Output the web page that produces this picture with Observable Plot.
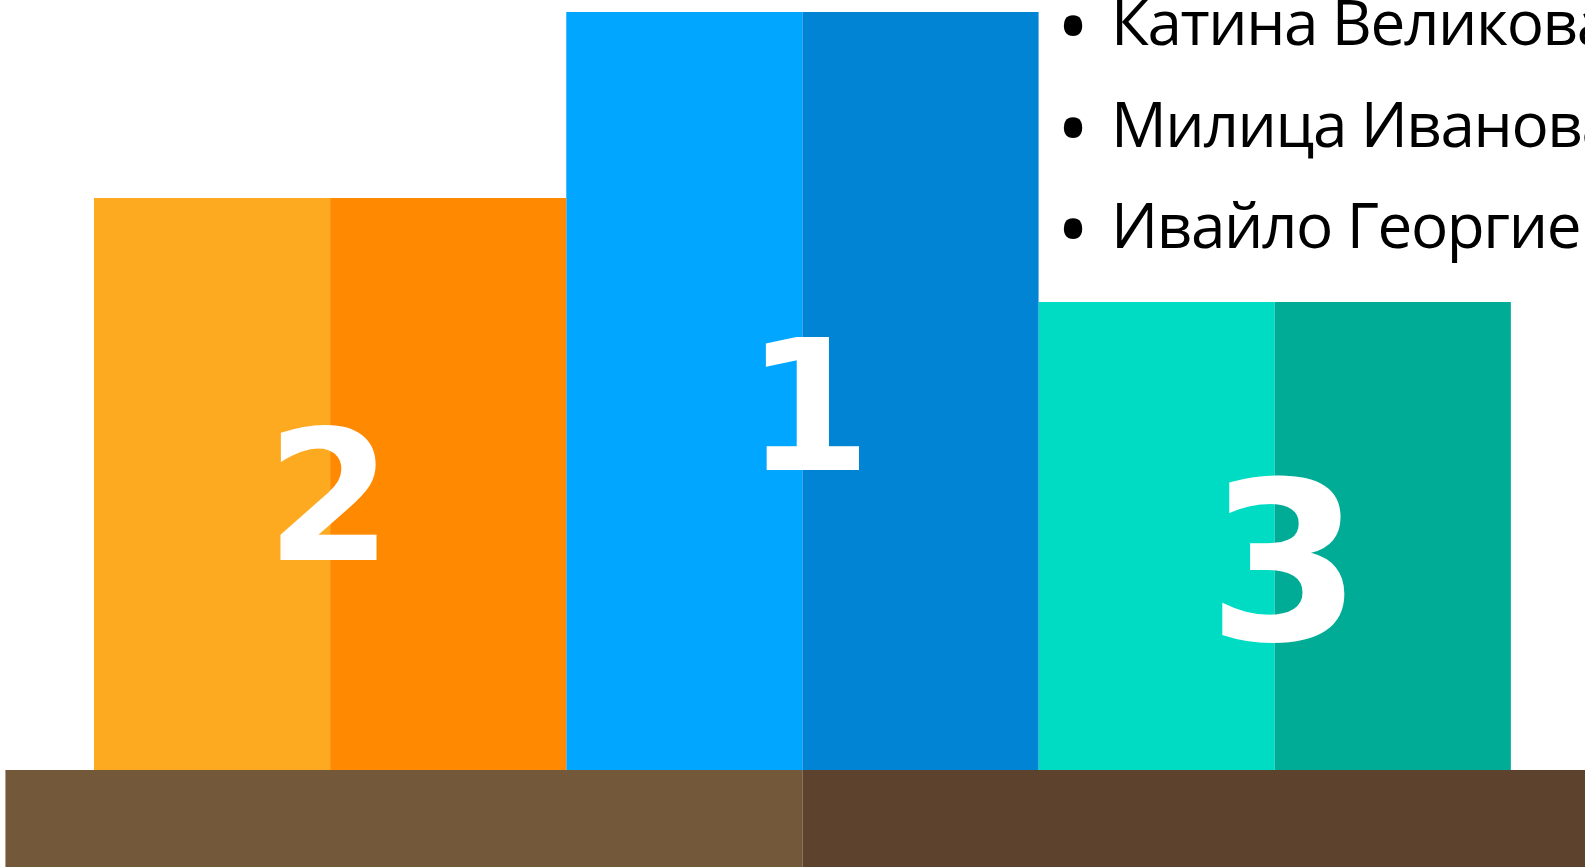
<!DOCTYPE html>
<html>
<head>
<meta charset="utf-8">
<script src="https://cdn.jsdelivr.net/npm/d3@7"></script>
<script src="https://cdn.jsdelivr.net/npm/@observablehq/plot@0.6"></script>
<style>
  html, body { margin: 0; padding: 0; background: #fff; overflow: hidden; }
  #chart svg { display: block; }
</style>
</head>
<body>
<div id="chart"></div>
<script>
// ---- data ----
const places = ["2", "1", "3"];            // podium places, left to right
const slots = [0, 1, 2];                    // slot order on the podium
const heights = [572, 758, 468];            // podium height above ground
const lightColors = ["#FEAA20", "#00A6FF", "#00DCC3"];
const darkColors = ["#FF8900", "#0084D3", "#00AC95"];
const groundColors = ["#735839", "#5D422E"];
const groundDepth = 97;
const names = ["Катина Великова", "Милица Иванова", "Ивайло Георгиев"];

const data = places.map((p, i) => ({
  place: p, slot: slots[i], h: heights[i], light: lightColors[i], dark: darkColors[i]
}));
const ground = [{from: 1 - 1.6875, mid: 1, to: 1 + 1.6875}];

const W = 1585, H = 867;
const plot = Plot.plot({
  width: W, height: H,
  margin: 0,
  x: {type: "linear", domain: [-0.699, 2.657], axis: null},
  y: {domain: [-groundDepth, 770], axis: null},
  color: {type: "identity"},
  marks: [
    Plot.rect(data, {x1: d => d.slot - 0.5, x2: "slot", y1: 0, y2: "h", fill: "light"}),
    Plot.rect(data, {x1: "slot", x2: d => d.slot + 0.5, y1: 0, y2: "h", fill: "dark"}),
    Plot.rect(ground, {x1: "from", x2: "mid", y1: -groundDepth, y2: 0, fill: () => groundColors[0]}),
    Plot.rect(ground, {x1: "mid", x2: "to", y1: -groundDepth, y2: 0, fill: () => groundColors[1]}),
    Plot.text(data, {
      x: d => d.slot + (d.place === "1" ? 0.012 : d.place === "3" ? 0.02 : -0.003),
      y: d => d.place === "3" ? d.h * 0.452 - 10 : d.h * 0.484 - 8,
      text: "place",
      fill: "white", fontFamily: "DejaVu Sans", fontWeight: "bold",
      fontSize: d => d.place === "3" ? 222 : 181
    })
  ]
});
document.getElementById("chart").appendChild(plot);

// name list in the top right
const g = d3.select(plot).append("g")
  .attr("font-family", "'Open Sans', sans-serif")
  .attr("text-anchor", "start")
  .attr("fill", "#000");
g.selectAll("text.bullet").data(names).join("text")
  .attr("class", "bullet")
  .attr("x", 1073).attr("y", (d, i) => 58 + i * 101.5)
  .attr("text-anchor", "middle")
  .attr("font-size", 88)
  .text("•");
g.selectAll("text.name").data(names).join("text")
  .attr("class", "name")
  .attr("x", 1111).attr("y", (d, i) => 45 + i * 101.5)
  .attr("font-size", 62)
  .attr("letter-spacing", -1.4)
  .text(d => d);
</script>
</body>
</html>
